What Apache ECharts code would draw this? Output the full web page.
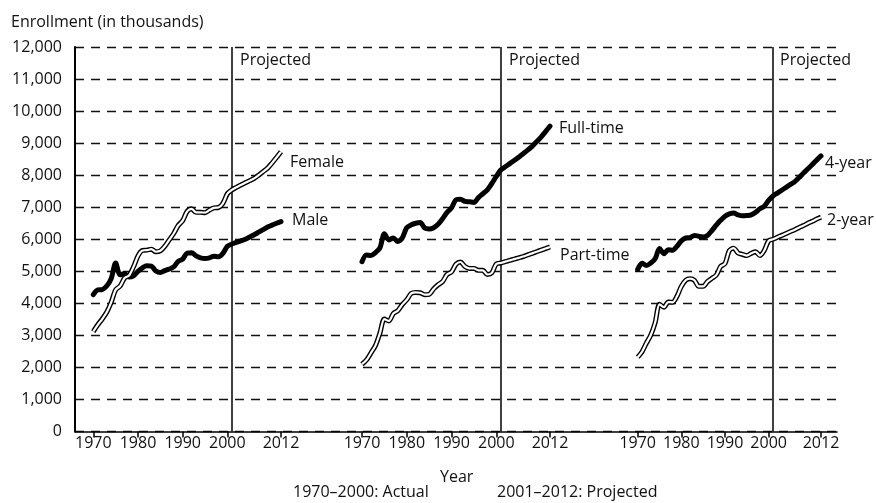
<!DOCTYPE html>
<html lang="en">
<head>
<meta charset="UTF-8">
<title>Enrollment</title>
<script src="https://cdn.jsdelivr.net/npm/echarts@6/dist/echarts.min.js"></script>
<style>html,body{margin:0;background:#fff}</style>
</head>
<body>
<div id="main" style="width:876px;height:503px"></div>
<script type="text/javascript">
// years 1970-2000 actual, 2001-2012 projected
var years = [];
for (var y = 1970; y <= 2012; y++) years.push(y);
var tickYears = [1970, 1980, 1990, 2000, 2012];
var projectedFrom = 2001;

// enrollment, in thousands
var male = [4270, 4420, 4430, 4540, 4770, 5260, 4890, 4930, 4820, 4860,
    5000, 5110, 5170, 5160, 5010, 4960, 5020, 5070, 5140, 5310,
    5380, 5570, 5580, 5480, 5420, 5400, 5420, 5470, 5450, 5560, 5780,
    5850, 5900, 5950, 6000, 6070, 6140, 6220, 6300, 6380, 6440, 6500, 6550];
var female = [3120, 3330, 3510, 3720, 4030, 4420, 4540, 4790, 4870, 5140,
    5480, 5650, 5660, 5690, 5610, 5640, 5780, 5980, 6180, 6430,
    6580, 6870, 6950, 6840, 6840, 6830, 6910, 6980, 6990, 7120, 7420,
    7540, 7620, 7690, 7760, 7830, 7900, 8000, 8110, 8220, 8380, 8550, 8730];
var fullTime = [5300, 5510, 5490, 5580, 5730, 6170, 5980, 6040, 5930, 6040,
    6360, 6450, 6500, 6520, 6350, 6320, 6360, 6470, 6640, 6840,
    6980, 7230, 7250, 7180, 7170, 7150, 7300, 7420, 7540, 7740, 7960,
    8160, 8260, 8360, 8460, 8560, 8670, 8780, 8900, 9040, 9190, 9360, 9530];
var partTime = [2100, 2230, 2450, 2680, 3070, 3510, 3450, 3680, 3770, 3960,
    4110, 4310, 4340, 4330, 4270, 4280, 4450, 4580, 4680, 4900,
    4980, 5220, 5290, 5150, 5090, 5090, 5030, 5030, 4900, 4950, 5230,
    5260, 5300, 5340, 5380, 5420, 5460, 5510, 5560, 5610, 5660, 5710, 5760];
var fourYear = [5060, 5250, 5180, 5260, 5390, 5710, 5550, 5670, 5660, 5780,
    5950, 6040, 6050, 6120, 6090, 6070, 6120, 6270, 6440, 6590,
    6720, 6790, 6820, 6760, 6730, 6740, 6760, 6840, 6950, 7030, 7210,
    7350, 7440, 7530, 7620, 7710, 7800, 7930, 8070, 8200, 8330, 8470, 8600];
var twoYear = [2320, 2490, 2760, 3010, 3400, 3970, 3880, 4040, 4030, 4220,
    4530, 4720, 4770, 4720, 4530, 4530, 4680, 4780, 4880, 5150,
    5240, 5650, 5720, 5570, 5530, 5490, 5560, 5610, 5490, 5650, 5950,
    6000, 6060, 6120, 6180, 6240, 6300, 6370, 6430, 6500, 6560, 6630, 6690];

var FONT = '"Open Sans", "Noto Sans", sans-serif';
var INK = '#111';

function pairs(vals) {
    return years.map(function (yr, i) { return [yr, vals[i]]; });
}

var myChart = echarts.init(document.getElementById('main'));

var panelGrid = [
    {left: 93.3, width: 187.7},
    {left: 362, width: 188},
    {left: 637.7, width: 183.3}
];

var grids = [{left: 75, right: 39, top: 47, bottom: 71.5}];
var xAxes = [{
    gridIndex: 0, type: 'value', min: 0, max: 1,
    axisLine: {lineStyle: {color: '#000', width: 1.5}},
    axisTick: {show: false}, axisLabel: {show: false}, splitLine: {show: false}
}];
var yAxes = [{
    gridIndex: 0, type: 'value', min: 0, max: 12000, interval: 1000,
    axisLine: {show: true, lineStyle: {color: '#000', width: 2}},
    axisTick: {show: false},
    axisLabel: {
        color: INK, fontSize: 16, fontFamily: FONT, margin: 13,
        formatter: function (v) { return v.toLocaleString('en-US'); }
    },
    splitLine: {lineStyle: {type: [9, 7], color: '#111', width: 1.3}}
}];

panelGrid.forEach(function (g, i) {
    grids.push({left: g.left, width: g.width, top: 47, bottom: 71.5});
    xAxes.push({
        gridIndex: i + 1, type: 'value', min: 1970, max: 2012,
        axisLine: {show: false},
        axisTick: {show: true, customValues: tickYears, length: 6, lineStyle: {color: '#000', width: 1.5}},
        axisLabel: {customValues: tickYears, color: INK, fontSize: 16, fontFamily: FONT, margin: 4,
            formatter: function (v) { return String(v); }},
        splitLine: {show: false}
    });
    yAxes.push({gridIndex: i + 1, type: 'value', min: 0, max: 12000, show: false});
});

function solidLine(name, vals, idx, offset) {
    return {
        name: name, type: 'line', xAxisIndex: idx, yAxisIndex: idx,
        data: pairs(vals), symbol: 'none', smooth: 0.3, silent: true,
        lineStyle: {color: '#000', width: 5, cap: 'round'},
        endLabel: {show: true, formatter: name, color: INK, fontSize: 16, fontFamily: FONT,
            distance: 0, offset: offset},
        z: 3
    };
}

function hollowLine(name, vals, idx, offset) {
    return [{
        name: name + ' outline', type: 'line', xAxisIndex: idx, yAxisIndex: idx,
        data: pairs(vals), symbol: 'none', smooth: 0.3, silent: true,
        lineStyle: {color: '#000', width: 5},
        z: 4
    }, {
        name: name, type: 'line', xAxisIndex: idx, yAxisIndex: idx,
        data: pairs(vals), symbol: 'none', smooth: 0.3, silent: true,
        lineStyle: {color: '#fff', width: 2.2},
        endLabel: {show: true, formatter: name, color: INK, fontSize: 16, fontFamily: FONT,
            distance: 0, offset: offset},
        markLine: {
            silent: true, symbol: 'none', label: {show: false},
            lineStyle: {color: '#000', width: 1.5, type: 'solid'},
            data: [{xAxis: projectedFrom}]
        },
        z: 5
    }];
}

var series = [].concat(
    solidLine('Male', male, 1, [11, -1]),
    hollowLine('Female', female, 1, [9, 11]),
    solidLine('Full-time', fullTime, 2, [9, 2]),
    hollowLine('Part-time', partTime, 2, [10, 8]),
    solidLine('4-year', fourYear, 3, [4, 7]),
    hollowLine('2-year', twoYear, 3, [6, 3])
);

function txt(x, y, s) {
    return {type: 'text', x: x, y: y, silent: true,
        style: {text: s, fill: INK, font: '16px ' + FONT, verticalAlign: 'middle'}};
}

var option = {
    backgroundColor: '#fff',
    animation: false,
    grid: grids,
    xAxis: xAxes,
    yAxis: yAxes,
    series: series,
    graphic: [
        txt(11, 22, 'Enrollment (in thousands)'),
        txt(240, 60, 'Projected'),
        txt(509, 60, 'Projected'),
        txt(780, 60, 'Projected'),
        txt(440, 477, 'Year'),
        txt(293, 492, '1970\u20132000: Actual'),
        txt(497, 492, '2001\u20132012: Projected')
    ]
};

myChart.setOption(option);
</script>
</body>
</html>
